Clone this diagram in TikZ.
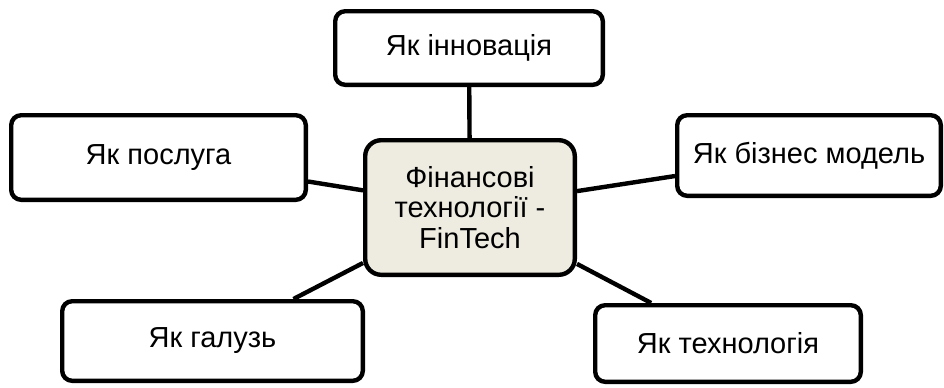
\documentclass[tikz,border=0pt]{standalone}
\usepackage{fontspec}
\setmainfont{Liberation Sans}
\usepackage{tikz}
\definecolor{mybeige}{RGB}{238,236,225}
\newcommand{\widthline}{2.2pt}
\tikzset{
    common/.style={draw, rectangle, rounded corners=5pt, line width=\widthline, align=center,
        font=\fontsize{14.5}{15.3}\selectfont},
    aspect/.style={common, fill=white},
    core/.style={common, fill=mybeige, rounded corners=8pt},
    link/.style={line width=\widthline}
}
\begin{document}
\begin{tikzpicture}[x=0.5pt, y=-0.5pt]
            \useasboundingbox (0,0) rectangle (944,387);

            \node[core, minimum width=104.8pt, minimum height=67.3pt] (fintech) at (470,207.5)
                {Фінансові\\технології -\\FinTech};

            \node[aspect, minimum width=133.8pt, minimum height=36.8pt] (innov) at (469,48) {Як інновація};
            \node[aspect, minimum width=147.3pt, minimum height=42.3pt] (service) at (158.5,157.5) {Як послуга};
            \node[aspect, minimum width=131.8pt, minimum height=40.3pt] (business) at (809,155.5) {Як бізнес модель};
            \node[aspect, minimum width=150.3pt, minimum height=39.8pt] (industry) at (212.5,341) {Як галузь};
            \node[aspect, minimum width=132.8pt, minimum height=38.3pt] (tech) at (728,343.5) {Як технологія};

            \draw[link] (innov) -- (fintech);
            \draw[link] (service) -- (fintech);
            \draw[link] (business) -- (fintech);
            \draw[link] (industry) -- (fintech);
            \draw[link] (tech) -- (fintech);

\end{tikzpicture}
\end{document}
